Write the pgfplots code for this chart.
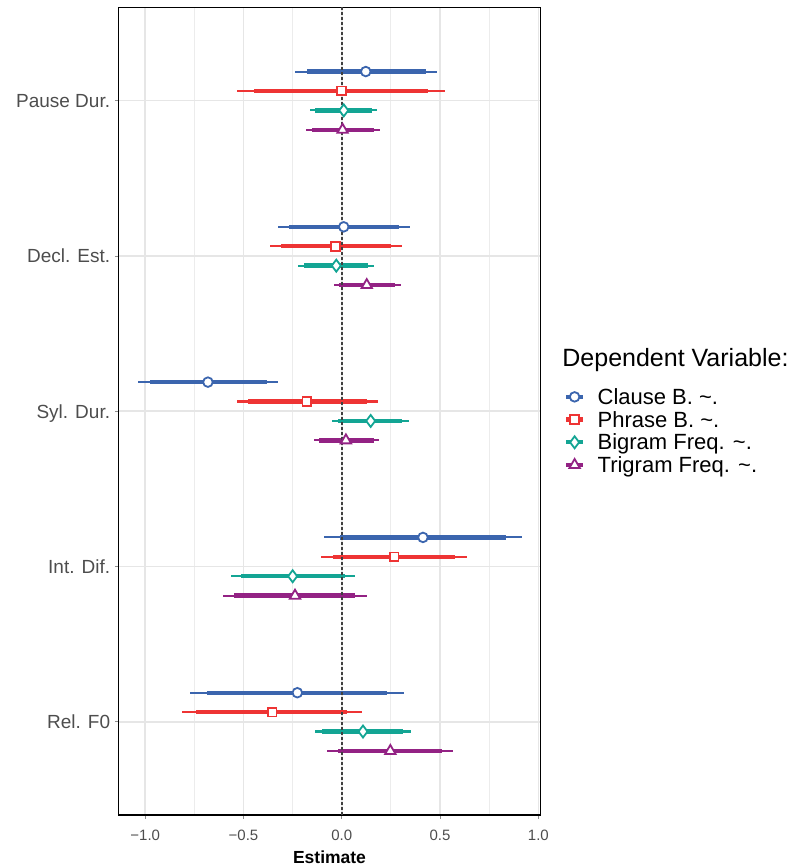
\documentclass[border=0pt]{standalone}
\usepackage{fontspec}
\setmainfont{Liberation Sans}
\usepackage{pgfplots}
\usepackage{pgfplotstable}
\pgfplotsset{compat=1.18}

\definecolor{cblue}{HTML}{3B65AE}
\definecolor{cred}{HTML}{EE3434}
\definecolor{cteal}{HTML}{13A594}
\definecolor{cpurple}{HTML}{932284}
\definecolor{gridc}{HTML}{E6E6E6}
\definecolor{labc}{HTML}{4D4D4D}

% columns: y position, estimate, 95% low/high, inner low/high
\pgfplotstableread{
y est lo hi lo2 hi2
5.1875 0.122 -0.238 0.486 -0.179 0.428
4.1875 0.010 -0.323 0.345 -0.269 0.291
3.1875 -0.681 -1.037 -0.325 -0.977 -0.382
2.1875 0.413 -0.091 0.915 -0.009 0.834
1.1875 -0.226 -0.771 0.316 -0.684 0.230
}\clause
\pgfplotstableread{
y est lo hi lo2 hi2
5.0625 -0.002 -0.531 0.523 -0.445 0.438
4.0625 -0.031 -0.365 0.305 -0.311 0.252
3.0625 -0.177 -0.535 0.183 -0.477 0.127
2.0625 0.266 -0.107 0.635 -0.046 0.577
1.0625 -0.355 -0.813 0.104 -0.740 0.028
}\phrase
\pgfplotstableread{
y est lo hi lo2 hi2
4.9375 0.010 -0.163 0.181 -0.136 0.154
3.9375 -0.028 -0.223 0.165 -0.194 0.133
2.9375 0.147 -0.048 0.340 -0.018 0.306
1.9375 -0.250 -0.565 0.067 -0.514 0.016
0.9375 0.108 -0.138 0.350 -0.101 0.311
}\bigram
\pgfplotstableread{
y est lo hi lo2 hi2
4.8125 0.004 -0.180 0.194 -0.152 0.164
3.8125 0.127 -0.041 0.300 -0.014 0.271
2.8125 0.021 -0.141 0.188 -0.116 0.162
1.8125 -0.238 -0.603 0.127 -0.547 0.067
0.8125 0.247 -0.074 0.564 -0.021 0.511
}\trigram

\pgfplotsset{
  thinbar/.style={forget plot, only marks, mark=none,
    error bars/.cd, x dir=both, x explicit, error mark=none,
    error bar style={line width=2.1pt, #1}},
  thickbar/.style={forget plot, only marks, mark=none,
    error bars/.cd, x dir=both, x explicit, error mark=none,
    error bar style={line width=4.4pt, #1}},
}

\begin{document}
\begin{tikzpicture}
\path[use as bounding box] (-118.3pt,-52pt) rectangle (673.7pt,815pt);
\begin{axis}[
  at={(0pt,0pt)}, anchor=south west, scale only axis,
  width=422.4pt, height=807.5pt,
  xmin=-1.137, xmax=1.012, ymin=0.4, ymax=5.6,
  xtick={-1,-0.5,0,0.5,1},
  xticklabels={−1.0,−0.5,0.0,0.5,1.0},
  minor xtick={-0.75,-0.25,0.25,0.75},
  ytick={1,2,3,4,5},
  yticklabels={Rel. F0,Int. Dif.,Syl. Dur.,Decl. Est.,Pause Dur.},
  xtick pos=bottom, ytick pos=left,
  grid=both,
  major grid style={draw=gridc, line width=1.5pt},
  minor grid style={draw=gridc!75, line width=0.9pt},
  axis line style={black, line width=1.3pt},
  tick align=outside,
  major tick length=3.5pt, minor tick length=0pt,
  tick style={draw=black!45, line width=0.9pt},
  xticklabel style={font=\fontsize{15}{15}\selectfont, text=labc, anchor=base, inner sep=0pt, yshift=-22pt},
  yticklabel style={font=\fontsize{19}{19}\selectfont, text=labc, anchor=base east, inner sep=0pt, yshift=-6.8pt, xshift=-4.5pt},
  xlabel={\textbf{Estimate}},
  xlabel style={font=\fontsize{17.5}{17.5}\selectfont, anchor=base, inner sep=0pt, at={(axis description cs:0.5,0)}, yshift=-48.3pt},
  legend style={at={(rel axis cs:1.0545,0.5321)}, anchor=north west, draw=none, fill=none,
    inner sep=0pt, row sep=0pt, column sep=0pt,
    font=\fontsize{22}{22}\selectfont,
    nodes={inner sep=0pt, text height=19pt, text depth=3.7pt}},
  legend cell align=left,
  legend image code/.code={
    \draw[#1, mark=none, line width=4.4pt] (0pt,0pt) -- (17pt,0pt);
    \draw[#1, line width=1.8pt] plot coordinates {(8.5pt,0pt)};
    \path[draw=none, fill=none] (0pt,0pt) -- (31.5pt,0pt);
  },
  clip=false,
]
% 95% intervals (thin)
\addplot[thinbar=cblue] table[x=est, y=y, x error plus expr=\thisrow{hi}-\thisrow{est}, x error minus expr=\thisrow{est}-\thisrow{lo}] {\clause};
\addplot[thinbar=cred] table[x=est, y=y, x error plus expr=\thisrow{hi}-\thisrow{est}, x error minus expr=\thisrow{est}-\thisrow{lo}] {\phrase};
\addplot[thinbar=cteal] table[x=est, y=y, x error plus expr=\thisrow{hi}-\thisrow{est}, x error minus expr=\thisrow{est}-\thisrow{lo}] {\bigram};
\addplot[thinbar=cpurple] table[x=est, y=y, x error plus expr=\thisrow{hi}-\thisrow{est}, x error minus expr=\thisrow{est}-\thisrow{lo}] {\trigram};
% inner intervals (thick)
\addplot[thickbar=cblue] table[x=est, y=y, x error plus expr=\thisrow{hi2}-\thisrow{est}, x error minus expr=\thisrow{est}-\thisrow{lo2}] {\clause};
\addplot[thickbar=cred] table[x=est, y=y, x error plus expr=\thisrow{hi2}-\thisrow{est}, x error minus expr=\thisrow{est}-\thisrow{lo2}] {\phrase};
\addplot[thickbar=cteal] table[x=est, y=y, x error plus expr=\thisrow{hi2}-\thisrow{est}, x error minus expr=\thisrow{est}-\thisrow{lo2}] {\bigram};
\addplot[thickbar=cpurple] table[x=est, y=y, x error plus expr=\thisrow{hi2}-\thisrow{est}, x error minus expr=\thisrow{est}-\thisrow{lo2}] {\trigram};
% zero line
\addplot[forget plot, draw=black!75, line width=1.5pt, dash pattern=on 2.5pt off 2.5pt] coordinates {(0,0.4) (0,5.6)};
% point estimates
\addplot[color=cblue, only marks, mark=*, mark size=4.8pt, mark options={fill=white, draw=cblue, line width=1.8pt, solid}] table[x=est, y=y] {\clause};
\addlegendentry{Clause B. \textasciitilde.}
\addplot[color=cred, only marks, mark=square*, mark size=4.4pt, mark options={fill=white, draw=cred, line width=1.8pt, solid}] table[x=est, y=y] {\phrase};
\addlegendentry{Phrase B. \textasciitilde.}
\addplot[color=cteal, only marks, mark=diamond*, mark size=6pt, mark options={fill=white, draw=cteal, line width=1.8pt, solid}] table[x=est, y=y] {\bigram};
\addlegendentry{Bigram Freq. \textasciitilde.}
\addplot[color=cpurple, only marks, mark=triangle*, mark size=6pt, mark options={fill=white, draw=cpurple, line width=1.8pt, solid}] table[x=est, y=y] {\trigram};
\addlegendentry{Trigram Freq. \textasciitilde.}
\node[anchor=base west, inner sep=0pt, font=\fontsize{25}{25}\selectfont] at (rel axis cs:1.0509,0.5552) {Dependent Variable:};
\end{axis}
\end{tikzpicture}
\end{document}
